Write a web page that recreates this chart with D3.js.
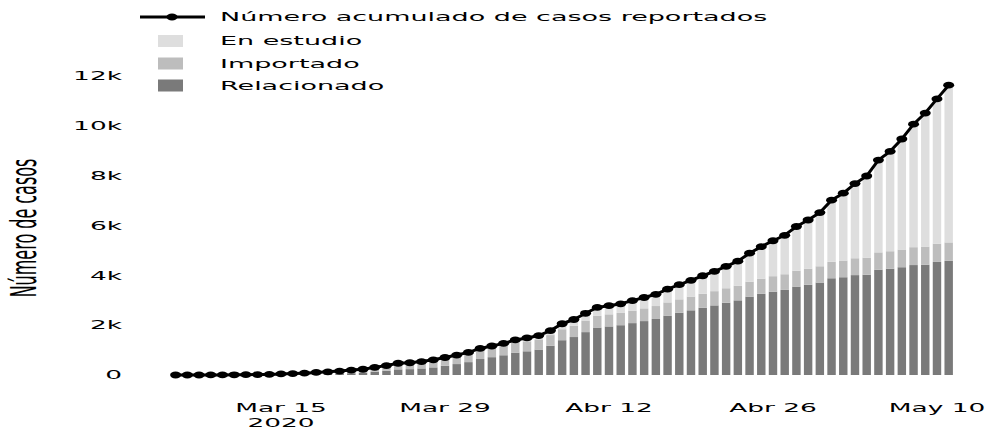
<!DOCTYPE html>
<html><head><meta charset="utf-8">
<script src="https://cdn.jsdelivr.net/npm/d3@7"></script>
<style>
body{margin:0;background:#fff}
svg{display:block}
text{font-family:"DejaVu Sans",Verdana,sans-serif;fill:#000}
</style>
</head><body>
<svg id="c" width="988" height="436"></svg>
<script>
// ---- data ----
const dates = [
 "2020-03-06","2020-03-07","2020-03-08","2020-03-09","2020-03-10","2020-03-11","2020-03-12","2020-03-13","2020-03-14","2020-03-15",
 "2020-03-16","2020-03-17","2020-03-18","2020-03-19","2020-03-20","2020-03-21","2020-03-22","2020-03-23","2020-03-24","2020-03-25",
 "2020-03-26","2020-03-27","2020-03-28","2020-03-29","2020-03-30","2020-03-31","2020-04-01","2020-04-02","2020-04-03","2020-04-04",
 "2020-04-05","2020-04-06","2020-04-07","2020-04-08","2020-04-09","2020-04-10","2020-04-11","2020-04-12","2020-04-13","2020-04-14",
 "2020-04-15","2020-04-16","2020-04-17","2020-04-18","2020-04-19","2020-04-20","2020-04-21","2020-04-22","2020-04-23","2020-04-24",
 "2020-04-25","2020-04-26","2020-04-27","2020-04-28","2020-04-29","2020-04-30","2020-05-01","2020-05-02","2020-05-03","2020-05-04",
 "2020-05-05","2020-05-06","2020-05-07","2020-05-08","2020-05-09","2020-05-10","2020-05-11"
];
const acumulado = [
 1,1,1,3,3,9,13,16,24,45,
 57,75,102,128,158,196,231,306,378,470,
 491,539,608,702,798,906,1065,1161,1267,1406,
 1485,1579,1780,2054,2223,2473,2709,2776,2852,2979,
 3105,3233,3439,3621,3792,3977,4149,4356,4561,4881,
 5142,5379,5597,5949,6211,6507,7006,7285,7668,7973,
 8613,8959,9456,10051,10495,11063,11613
];
const relacionado = [
 0,0,0,0,0,0,0,1,3,7,
 11,17,27,38,54,72,91,130,170,225,
 235,263,305,370,438,516,640,714,791,896,
 950,1019,1175,1394,1521,1718,1901,1946,1995,2079,
 2160,2245,2379,2491,2592,2697,2789,2896,2991,3141,
 3252,3339,3409,3543,3617,3705,3876,3917,4002,4019,
 4221,4259,4318,4405,4421,4531,4573
];
const importado = [
 1,1,1,3,3,9,13,15,21,38,
 46,58,75,90,104,124,140,170,196,225,
 232,248,268,290,310,330,350,362,376,390,
 400,410,425,440,452,465,478,485,492,500,
 510,518,530,540,550,560,570,580,590,600,
 610,620,628,636,644,652,660,668,676,684,
 692,700,708,716,724,732,740
];
const enEstudio = [
 0,0,0,0,0,0,0,0,0,0,
 0,0,0,0,0,0,0,6,12,20,
 24,28,35,42,50,60,75,85,100,120,
 135,150,180,220,250,290,330,345,365,400,
 435,470,530,590,650,720,790,880,980,1140,
 1280,1420,1560,1770,1950,2150,2470,2700,2990,3270,
 3700,4000,4430,4930,5350,5800,6300
];
const seriesNames = ["Relacionado","Importado","En estudio"];
const lineName = "Número acumulado de casos reportados";
const yTitle = "Número de casos";
const yTicks = [0,2000,4000,6000,8000,10000,12000];
const yTickLabels = ["0","2k","4k","6k","8k","10k","12k"];
const xTicks = ["2020-03-15","2020-03-29","2020-04-12","2020-04-26","2020-05-10"];
const xTickLabels = [["Mar 15","2020"],["Mar 29"],["Abr 12"],["Abr 26"],["May 10"]];

// ---- layout / style ----
const colors = {"Relacionado":"#7a7a7a","Importado":"#bdbdbd","En estudio":"#dedede"};
const SX = 2.2;   // horizontal text stretch (ticks, title)
const SXL = 2.25; // legend text stretch
const parse = d3.timeParse("%Y-%m-%d");
const svg = d3.select("#c");

const x = d3.scaleTime()
  .domain([parse("2020-03-05"), parse("2020-05-12")])
  .range([163.9, 960.4]);
const y = d3.scaleLinear().domain([0,12000]).range([375,75.5]);

const rows = dates.map((d,i)=>({date:parse(d),"Relacionado":relacionado[i],"Importado":importado[i],"En estudio":enEstudio[i],total:acumulado[i]}));
const dayW = x(parse("2020-03-07")) - x(parse("2020-03-06"));
const bw = dayW*0.72;

const stack = d3.stack().keys(seriesNames)(rows);
const gBars = svg.append("g");
stack.forEach(layer=>{
  gBars.append("g").attr("fill",colors[layer.key])
   .selectAll("rect").data(layer).join("rect")
   .attr("x",d=>x(d.data.date)-bw/2)
   .attr("width",bw)
   .attr("y",d=>y(d[1]))
   .attr("height",d=>Math.max(0,y(d[0])-y(d[1])));
});

// line
const line = d3.line().x(d=>x(d.date)).y(d=>y(d.total));
svg.append("path").datum(rows).attr("d",line)
  .attr("fill","none").attr("stroke","#000").attr("stroke-width",3);
svg.append("g").selectAll("ellipse").data(rows).join("ellipse")
  .attr("cx",d=>x(d.date)).attr("cy",d=>y(d.total))
  .attr("rx",5.5).attr("ry",3.4).attr("fill","#000");

// stretched text helper
function stext(g, tx, ty, str, size, anchor, rot, sx){
  return g.append("text")
    .attr("transform",`translate(${tx},${ty}) scale(${sx||SX},1)`+(rot?` rotate(${rot})`:""))
    .attr("text-anchor",anchor).attr("font-size",size).text(str);
}

// y axis ticks
const gy = svg.append("g");
yTicks.forEach((t,i)=>{
  stext(gy, 122, y(t)+4.4, yTickLabels[i], 12, "end");
});
// x axis ticks
const gx = svg.append("g");
xTicks.forEach((t,i)=>{
  xTickLabels[i].forEach((s,j)=>{
    stext(gx, x(parse(t)), 412+j*15, s, 12, "middle");
  });
});
// y title
stext(svg.append("g"), 36, 228, yTitle, 16, "middle", -90);

// legend
const lg = svg.append("g");
const rowY = [17, 41, 63.5, 85.5];
lg.append("line").attr("x1",140).attr("x2",205).attr("y1",rowY[0]).attr("y2",rowY[0])
  .attr("stroke","#000").attr("stroke-width",3);
lg.append("ellipse").attr("cx",172).attr("cy",rowY[0]).attr("rx",5.5).attr("ry",3.4).attr("fill","#000");
stext(lg, 220, rowY[0]+4.4, lineName, 12, "start", 0, SXL);
const legendSeries = seriesNames.slice().reverse();
legendSeries.forEach((k,i)=>{
  const cy = rowY[i+1];
  lg.append("rect").attr("x",158).attr("y",cy-6).attr("width",25).attr("height",12).attr("fill",colors[k]);
  stext(lg, 220, cy+4.4, k, 12, "start", 0, SXL);
});
</script>
</body></html>
